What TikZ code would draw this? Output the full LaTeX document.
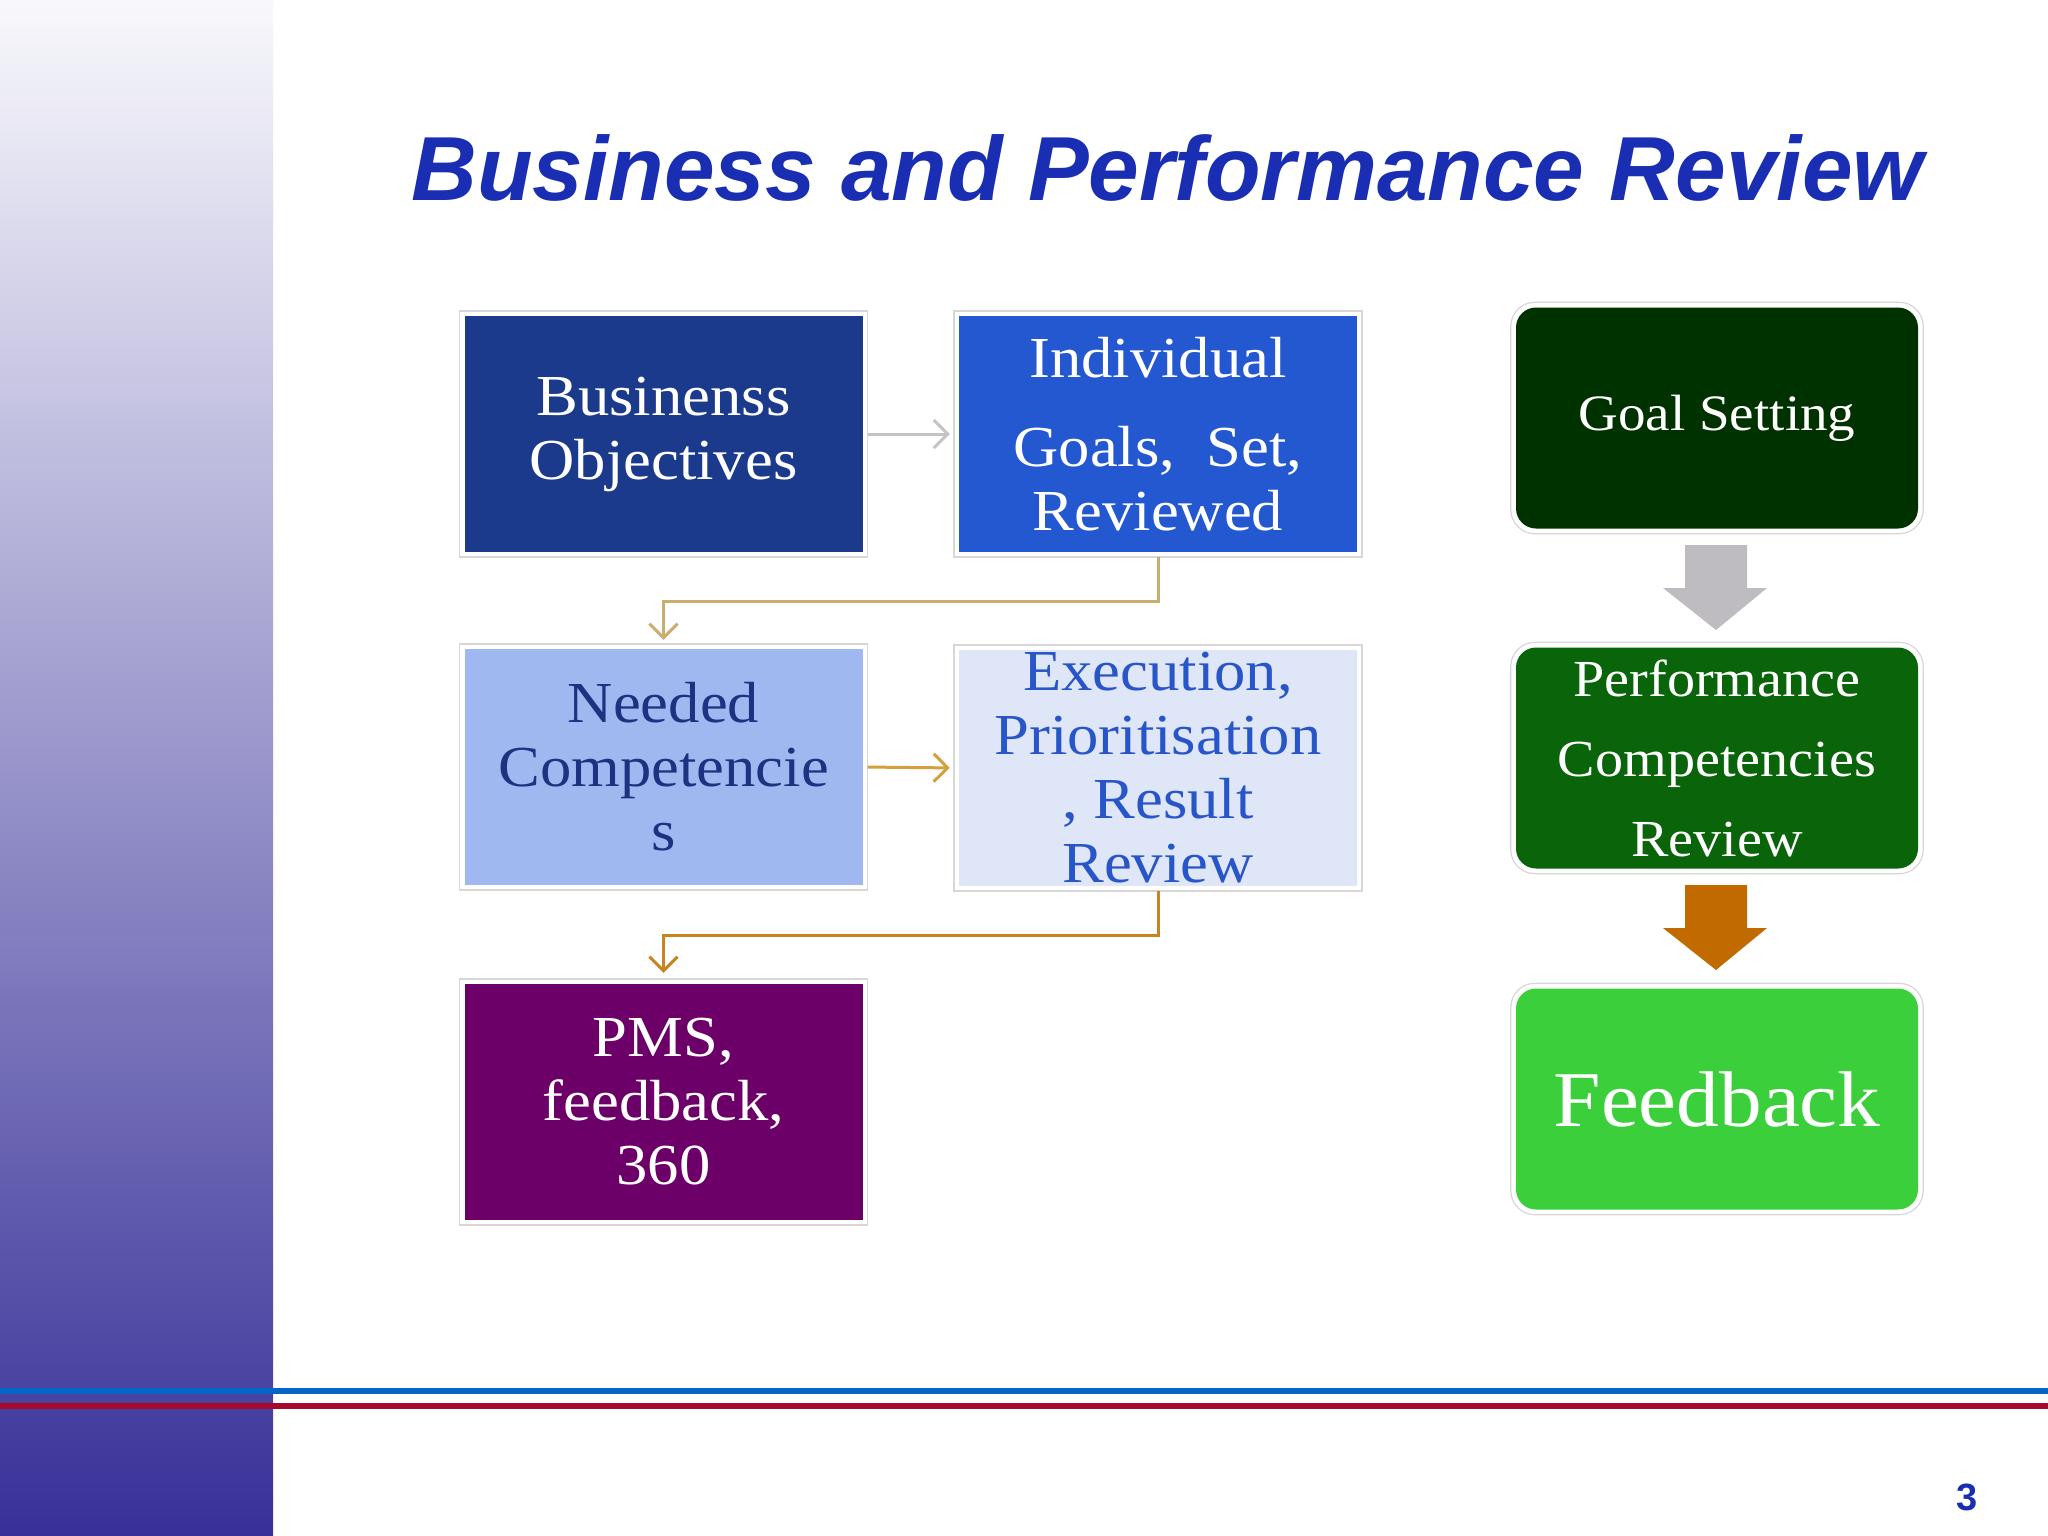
\documentclass[tikz,border=0pt]{standalone}
\usepackage{fontspec}
\setmainfont{Liberation Serif}
\newfontfamily\pal[FakeStretch=1.08]{Liberation Serif}
\newfontfamily\titlefont{Liberation Sans}
\usetikzlibrary{arrows.meta}
\definecolor{titleblue}{RGB}{26,46,180}
\definecolor{cbone}{RGB}{28,58,140}
\definecolor{cbtwo}{RGB}{36,88,208}
\definecolor{cbthree}{RGB}{160,184,240}
\definecolor{cbfour}{RGB}{222,230,248}
\definecolor{cbfive}{RGB}{108,0,104}
\definecolor{cgone}{RGB}{0,50,0}
\definecolor{cgtwo}{RGB}{10,100,10}
\definecolor{cgthree}{RGB}{60,207,60}
\definecolor{navytext}{RGB}{30,50,130}
\definecolor{bluetext}{RGB}{40,85,200}
\definecolor{grayarrow}{RGB}{190,188,192}
\definecolor{orangearrow}{RGB}{192,106,0}
\definecolor{conngray}{RGB}{196,196,196}
\definecolor{conntan}{RGB}{201,174,110}
\definecolor{conngold}{RGB}{210,160,60}
\definecolor{connbrown}{RGB}{200,132,30}
\definecolor{lineblue}{RGB}{5,100,200}
\definecolor{linered}{RGB}{165,10,45}
\definecolor{barTop}{RGB}{248,248,252}
\definecolor{barBot}{RGB}{55,48,152}
\definecolor{framegray}{RGB}{215,215,215}
\tikzset{
  lbox/.style={rectangle, inner sep=0pt, minimum width=398pt, minimum height=236pt, align=center, text=white},
  rbox/.style={rectangle, rounded corners=20pt, inner sep=0pt, minimum width=402pt, minimum height=221pt, align=center, text=white},
  lframe/.style={draw=framegray, line width=1.5pt},
  conn/.style={line width=3pt, -{Straight Barb[length=14pt,width=28pt,line width=3pt]}, shorten <=5pt},
  lfont/.style={font=\pal\fontsize{58}{64}\selectfont},
}
\begin{document}
\begin{tikzpicture}[x=1pt,y=-1pt]
\useasboundingbox (0,0) rectangle (2048,1536);
\fill[white] (0,0) rectangle (2048,1536);
\shade[top color=barTop, bottom color=barBot] (0,0) rectangle (273,1536);
\fill[lineblue] (0,1388) rectangle (2048,1394);
\fill[linered] (0,1403) rectangle (2048,1409);

\node[anchor=base, text=titleblue, font=\titlefont\bfseries\itshape\fontsize{91}{100}\selectfont] (title) at (1167.5,200) {Business and Performance Review};

% left boxes
\node[lbox, lfont, fill=cbone] (b1) at (663.5,434) {Businenss\\Objectives};
\node[lbox, lfont, fill=cbtwo] (b2) at (1158,434) {Individual\\[25pt]Goals,~ Set,\\Reviewed};
\node[lbox, lfont, fill=cbthree, text=navytext] (b3) at (663.5,767) {Needed\\Competencie\\s};
\node[lbox, lfont, fill=cbfour, text=bluetext] (b4) at (1158,768) {Execution,\\Prioritisation\\, Result\\Review};
\node[lbox, lfont, fill=cbfive] (b5) at (663.5,1102) {PMS,\\feedback,\\360};
\foreach \n in {b1,b2,b3,b4,b5}
  \draw[lframe] ([xshift=-5pt,yshift=5pt]\n.north west) rectangle ([xshift=5pt,yshift=-5pt]\n.south east);

% right boxes
\node[rbox, fill=cgone, font=\pal\fontsize{51}{60}\selectfont] (g1) at (1717,418) {Goal Setting};
\node[rbox, fill=cgtwo, font=\pal\fontsize{52}{80}\selectfont] (g2) at (1717,758) {Performance\\Competencies\\Review};
\node[rbox, fill=cgthree, font=\pal\fontsize{79}{90}\selectfont] (g3) at (1717,1099) {Feedback};
\foreach \n in {g1,g2,g3}
  \draw[lframe, line width=1.2pt, rounded corners=24pt] ([xshift=-5pt,yshift=5pt]\n.north west) rectangle ([xshift=5pt,yshift=-5pt]\n.south east);

% block arrows
\fill[grayarrow] (1685,545) -- (1747,545) -- (1747,588) -- (1767,588) -- (1716,630) -- (1663,588) -- (1685,588) -- cycle;
\fill[orangearrow] (1685,885) -- (1747,885) -- (1747,928) -- (1767,928) -- (1716,970) -- (1663,928) -- (1685,928) -- cycle;

% connectors
\draw[conn, conngray, shorten >=9pt] (b1.east) -- (b2.west);
\draw[conn, conntan, shorten >=9pt] (b2.south) -- ++(0,49) -| (b3.north);
\draw[conn, conngold, shorten >=9pt] (b3.east) -- (b4.west);
\draw[conn, connbrown, shorten >=11pt] (b4.south) -- ++(0,49) -| (b5.north);

\node[text=titleblue, font=\titlefont\bfseries\fontsize{38}{40}\selectfont] (pg) at (1967,1497) {3};
\end{tikzpicture}
\end{document}
